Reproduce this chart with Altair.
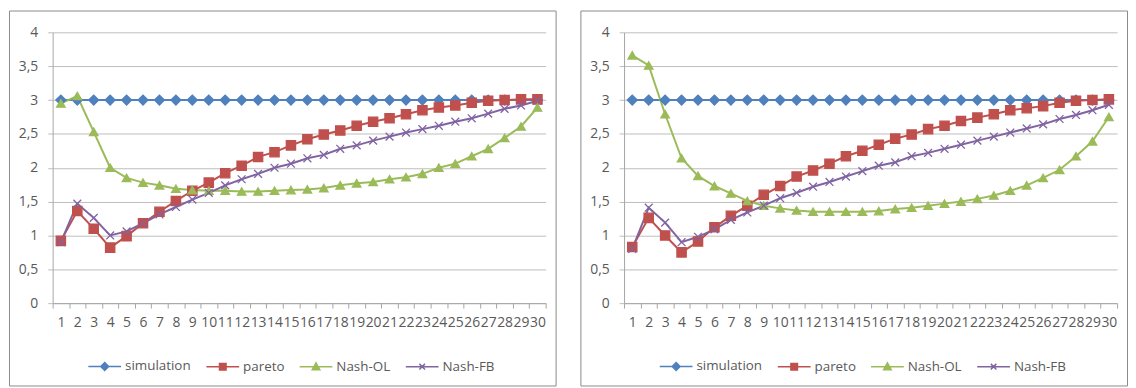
import altair as alt
import pandas as pd

categories = [1, 2, 3, 4, 5, 6, 7, 8, 9, 10, 11, 12, 13, 14, 15,
              16, 17, 18, 19, 20, 21, 22, 23, 24, 25, 26, 27, 28, 29, 30]
series_names = ["simulation", "pareto", "Nash-OL", "Nash-FB"]
series_colors = ["#4F81BD", "#C0504D", "#9BBB59", "#8064A2"]
y_ticks = [0, 0.5, 1, 1.5, 2, 2.5, 3, 3.5, 4]

left_simulation = [3.0, 3.0, 3.0, 3.0, 3.0, 3.0, 3.0, 3.0, 3.0, 3.0, 3.0, 3.0, 3.0, 3.0, 3.0,
                   3.0, 3.0, 3.0, 3.0, 3.0, 3.0, 3.0, 3.0, 3.0, 3.0, 3.0, 3.0, 3.0, 3.0, 3.0]
left_pareto = [0.92, 1.36, 1.10, 0.82, 0.99, 1.18, 1.35, 1.51, 1.66, 1.78, 1.92, 2.03, 2.16, 2.23, 2.33,
               2.42, 2.49, 2.55, 2.62, 2.68, 2.73, 2.79, 2.85, 2.89, 2.92, 2.96, 2.99, 3.00, 3.01, 3.01]
left_nash_ol = [2.95, 3.06, 2.53, 2.00, 1.85, 1.78, 1.74, 1.69, 1.67, 1.66, 1.66, 1.65, 1.65, 1.66, 1.67,
                1.68, 1.70, 1.74, 1.77, 1.79, 1.83, 1.86, 1.91, 2.00, 2.06, 2.17, 2.28, 2.44, 2.61, 2.89]
left_nash_fb = [0.90, 1.47, 1.26, 1.00, 1.06, 1.18, 1.31, 1.42, 1.53, 1.63, 1.74, 1.83, 1.91, 2.00, 2.06,
                2.14, 2.19, 2.28, 2.33, 2.40, 2.46, 2.52, 2.57, 2.62, 2.68, 2.73, 2.80, 2.87, 2.92, 2.99]

right_simulation = [3.0, 3.0, 3.0, 3.0, 3.0, 3.0, 3.0, 3.0, 3.0, 3.0, 3.0, 3.0, 3.0, 3.0, 3.0,
                    3.0, 3.0, 3.0, 3.0, 3.0, 3.0, 3.0, 3.0, 3.0, 3.0, 3.0, 3.0, 3.0, 3.0, 3.0]
right_pareto = [0.83, 1.26, 1.00, 0.75, 0.91, 1.12, 1.29, 1.44, 1.60, 1.73, 1.87, 1.96, 2.06, 2.17, 2.25,
                2.34, 2.43, 2.49, 2.57, 2.62, 2.69, 2.74, 2.79, 2.85, 2.88, 2.91, 2.96, 2.99, 3.00, 3.01]
right_nash_ol = [3.66, 3.51, 2.79, 2.14, 1.88, 1.73, 1.62, 1.51, 1.44, 1.40, 1.37, 1.35, 1.35, 1.35, 1.35,
                 1.36, 1.39, 1.41, 1.44, 1.47, 1.50, 1.54, 1.59, 1.66, 1.74, 1.85, 1.97, 2.17, 2.39, 2.75]
right_nash_fb = [0.80, 1.41, 1.19, 0.90, 0.98, 1.09, 1.23, 1.34, 1.44, 1.55, 1.63, 1.72, 1.79, 1.87, 1.95,
                 2.03, 2.08, 2.17, 2.22, 2.28, 2.34, 2.40, 2.46, 2.52, 2.58, 2.64, 2.72, 2.78, 2.85, 2.93]

# styling
PANEL_W, PANEL_H = 551, 378
X_RANGE = [44, 541]
Y_RANGE = [295, 22]
FONT = "Open Sans"
TEXT_COLOR = "#595959"
GRID_COLOR = "#bdbdbd"

marker_shapes = ["diamond", "square", "triangle-up", "M-1,-1L1,1M1,-1L-1,1"]
marker_sizes = [100, 62, 68, 56]
legend_shapes = [
    "M-1,0L1,0M0,-0.24L0.24,0L0,0.24L-0.24,0Z",
    "M-1,0L1,0M-0.2,-0.2L0.2,-0.2L0.2,0.2L-0.2,0.2Z",
    "M-1,0L1,0M0,-0.23L0.23,0.19L-0.23,0.19Z",
    "M-1,0L1,0M-0.17,-0.17L0.17,0.17M0.17,-0.17L-0.17,0.17",
]


def make_panel(series_values):
    rows = []
    for name, vals in zip(series_names, series_values):
        for c, v in zip(categories, vals):
            rows.append({"cat": c, "series": name, "value": v})
    df = pd.DataFrame(rows)

    x_enc = alt.X(
        "cat:O",
        bandPosition=0.5,
        scale=alt.Scale(type="band", range=X_RANGE, paddingInner=0, paddingOuter=0),
        axis=alt.Axis(
            title=None, labelAngle=0, labelOverlap=False, tickBand="extent",
            grid=False, domainColor="#a6a6a6", tickColor="#a6a6a6", tickSize=5,
            labelFont=FONT, labelFontSize=14, labelColor=TEXT_COLOR, labelPadding=8,
            offset=-(PANEL_H - Y_RANGE[0]),
        ),
    )
    y_enc = alt.Y(
        "value:Q",
        scale=alt.Scale(domain=[0, 4], range=Y_RANGE, nice=False, zero=False),
        axis=alt.Axis(
            title=None, values=y_ticks,
            labelExpr="replace(format(datum.value, '.1~f'), '.', ',')",
            grid=True, gridColor=GRID_COLOR, gridWidth=1,
            domainColor="#a6a6a6", tickColor=GRID_COLOR, tickSize=5,
            labelFont=FONT, labelFontSize=14, labelColor=TEXT_COLOR, labelPadding=10,
            offset=-X_RANGE[0],
        ),
    )
    cscale = alt.Scale(domain=series_names, range=series_colors)

    lines = alt.Chart(df).mark_line(strokeWidth=2).encode(
        x=x_enc, y=y_enc,
        color=alt.Color("series:N", scale=cscale, legend=None),
    )
    points = alt.Chart(df).mark_point(filled=True, opacity=1, strokeWidth=1.3).encode(
        x=x_enc, y=y_enc,
        fill=alt.Fill("series:N", scale=cscale, legend=None),
        stroke=alt.Stroke("series:N", scale=cscale, legend=None),
        shape=alt.Shape("series:N", scale=alt.Scale(domain=series_names, range=marker_shapes), legend=None),
        size=alt.Size("series:N", scale=alt.Scale(domain=series_names, range=marker_sizes), legend=None),
    )
    leg = alt.Legend(
        title=None, orient="none", legendX=79, legendY=341, direction="horizontal",
        symbolSize=1089, symbolStrokeWidth=1.5, symbolOpacity=1,
        labelFont=FONT, labelFontSize=13.5,
        labelColor=TEXT_COLOR, labelOffset=3, columnPadding=12, padding=0,
    )
    legend_layer = alt.Chart(df).transform_filter("false").mark_point(filled=True, opacity=1).encode(
        x=x_enc, y=y_enc,
        fill=alt.Fill("series:N", scale=cscale, legend=leg),
        stroke=alt.Stroke("series:N", scale=cscale, legend=leg),
        shape=alt.Shape("series:N", scale=alt.Scale(domain=series_names, range=legend_shapes), legend=leg),
    )
    return alt.layer(lines, points, legend_layer).resolve_scale(
        color="independent", fill="independent", stroke="independent",
        shape="independent", size="independent",
    ).properties(width=PANEL_W, height=PANEL_H)


left = make_panel([left_simulation, left_pareto, left_nash_ol, left_nash_fb])
right = make_panel([right_simulation, right_pareto, right_nash_ol, right_nash_fb])

chart = alt.hconcat(left, right, spacing=23).resolve_scale(
    x="independent", y="independent"
).properties(padding=0).configure_view(stroke="#8a8a8a", strokeWidth=1)

chart.save("out.html", embed_options={"renderer": "svg", "actions": False})
